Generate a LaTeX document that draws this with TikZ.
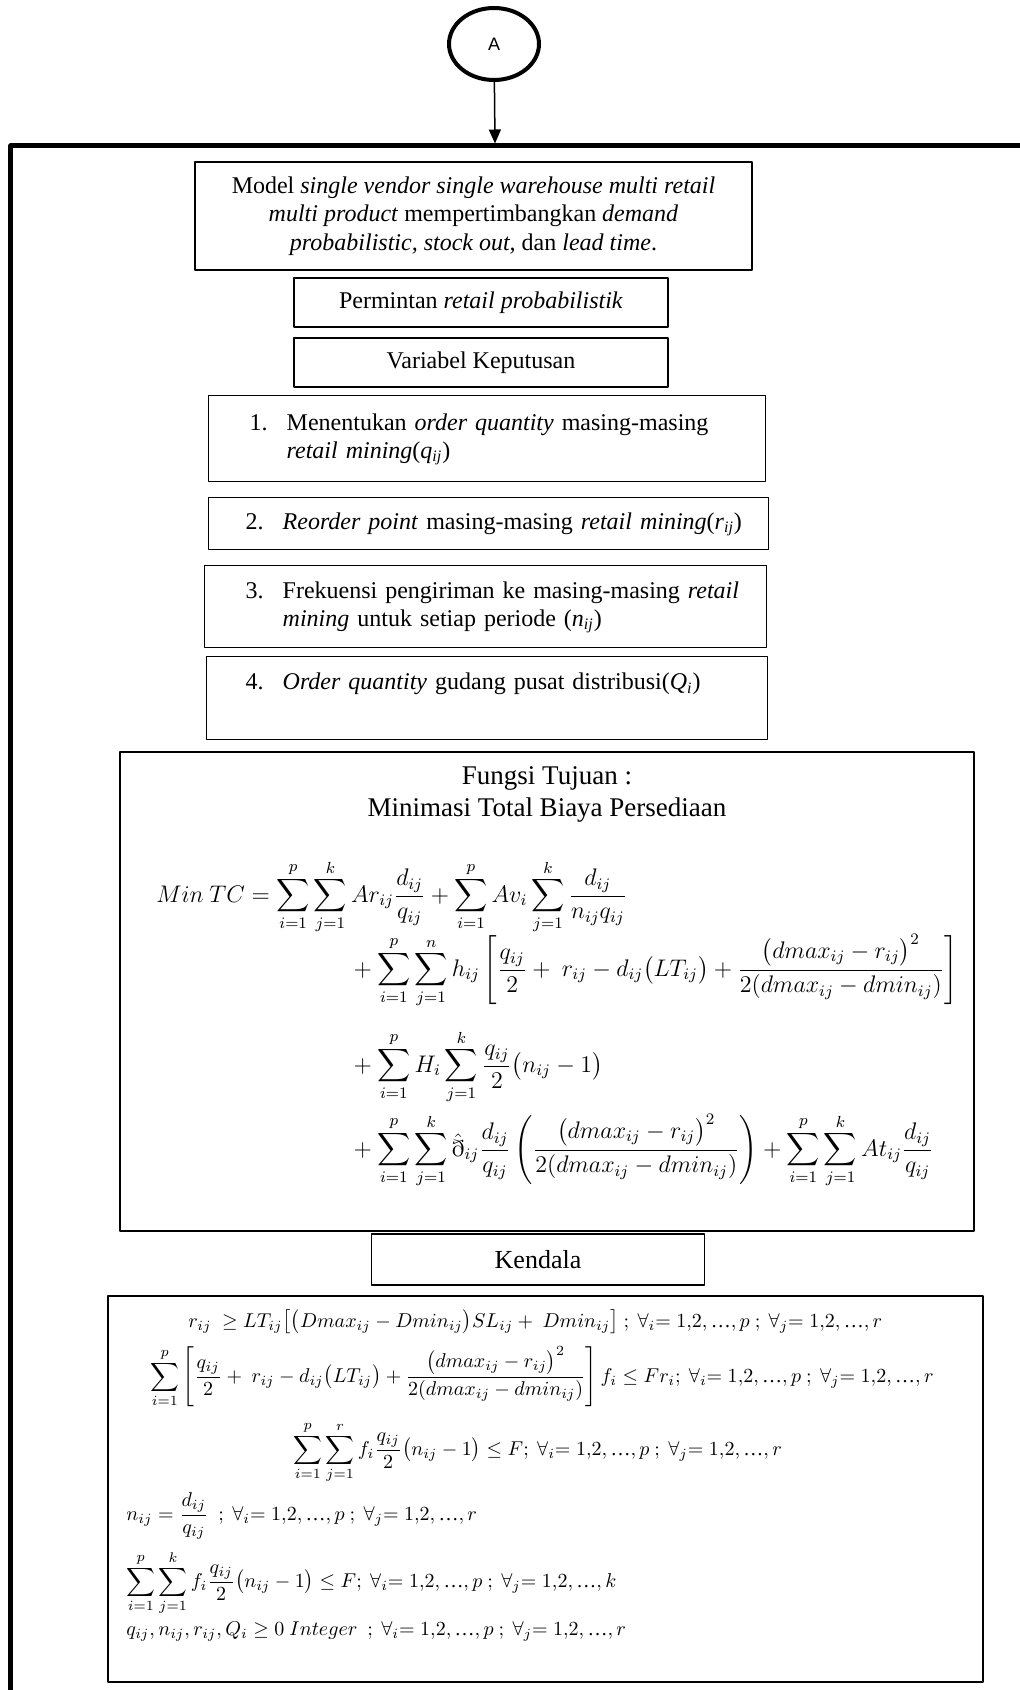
\documentclass[tikz,border=0pt]{standalone}
\usepackage{fontspec}
\setmainfont{Liberation Serif}
\newfontfamily\sanslabel{Liberation Sans}
\usepackage{amsmath,amssymb}
\usetikzlibrary{shapes.geometric,arrows.meta}

\newcommand{\tsub}[2]{\textit{#1}\textsubscript{\textit{#2}}}
\newcommand{\numline}[2]{\begin{tabular}{@{}p{18.5pt}@{}l@{}}#1 & #2\end{tabular}}
\newcommand{\elip}{\text{…}}
\newcommand{\rangeij}[1]{\forall_{i}{=}\;1{,}2,\elip,p\ ;\ \forall_{j}{=}\;1{,}2,\elip,#1}

\begin{document}
\begin{tikzpicture}[x=0.5pt, y=-0.5pt, line join=round,
  kotak/.style={draw, line width=0.7pt, rectangle, inner sep=0pt, font=\fontsize{12}{14}\selectfont},
  daftar/.style={kotak, anchor=north west, align=left},
  rumus/.style={anchor=base west, inner sep=0pt, font=\fontsize{11.5}{14}\selectfont},
  syarat/.style={rumus, font=\fontsize{10}{12}\selectfont}]
\useasboundingbox (0,0) rectangle (1019,1690);

% 1. Konektor A dan bingkai utama
\node[ellipse, draw, line width=2pt, minimum width=45pt, minimum height=36pt, inner sep=0pt,
  font=\sanslabel\fontsize{9}{11}\selectfont] (A) at (494,44) {A};
\coordinate (bingkai) at (495,143.5);
\draw[-{Triangle[length=7pt,width=6pt]}, line width=0.75pt] (A) -- (bingkai);
\draw[line width=2.5pt] (10.8,1720) -- (10.8,145.8) -- (1040,145.8);

% 2. Model dan variabel keputusan
\node[kotak, minimum width=278.5pt, minimum height=54pt, align=center,
  font=\fontsize{12}{14.25}\selectfont] (model) at (473.5,216)
  {Model \textit{single vendor single warehouse multi retail}\\
   \textit{multi product} mempertimbangkan \textit{demand}\\
   \textit{probabilistic, stock out,} dan \textit{lead time}.};
\node[kotak, minimum width=187pt, minimum height=24.5pt] (permintaan) at (481,302.5)
  {Permintan \textit{retail probabilistik}};
\node[kotak, minimum width=187pt, minimum height=24.5pt] (keputusan) at (481,362.5)
  {Variabel Keputusan};

\node[daftar, inner xsep=20.5pt, text width=237.5pt, minimum height=43pt] (var1) at (208,395)
  {\numline{1.}{Menentukan \textit{order quantity} masing-masing\\ & \textit{retail mining}(\tsub{q}{ij})}};
\node[daftar, inner xsep=18.5pt, text width=243pt, minimum height=26pt] (var2) at (208,497)
  {\numline{2.}{\textit{Reorder point} masing-masing \textit{retail mining}(\tsub{r}{ij})}};
\node[daftar, inner xsep=20.5pt, text width=240pt, minimum height=41pt] (var3) at (204,565)
  {\numline{3.}{Frekuensi pengiriman ke masing-masing \textit{retail}\\ & \textit{mining} untuk setiap periode (\tsub{n}{ij})}};
\node[daftar, inner xsep=19.5pt, text width=241.5pt, minimum height=41.5pt] (var4) at (206,656)
  {\numline{4.}{\textit{Order quantity} gudang pusat distribusi(\tsub{Q}{i})\\ & }};

% 3. Fungsi tujuan
\node[kotak, minimum width=427pt, minimum height=239.5pt] (tujuan) at (547,991.5) {};
\node[align=center, font=\fontsize{13.5}{16}\selectfont] (judul) at (547,794)
  {Fungsi Tujuan :\\Minimasi Total Biaya Persediaan};
\node[rumus] (tc1) at (156,902) {$\displaystyle Min\ TC = \sum_{i=1}^{p}\sum_{j=1}^{k} Ar_{ij}\frac{d_{ij}}{q_{ij}}
  + \sum_{i=1}^{p} Av_i \sum_{j=1}^{k}\frac{d_{ij}}{n_{ij}q_{ij}}$};
\node[rumus] (tc2) at (348,976) {$\displaystyle {}+\sum_{i=1}^{p}\sum_{j=1}^{n} h_{ij}\left[\frac{q_{ij}}{2}+\ r_{ij}-d_{ij}\bigl(LT_{ij}\bigr)
  +\frac{\bigl(dmax_{ij}-r_{ij}\bigr)^2}{2(dmax_{ij}-dmin_{ij})}\right]$};
\node[rumus] (tc3) at (348,1072) {$\displaystyle {}+\sum_{i=1}^{p} H_i \sum_{j=1}^{k}\frac{q_{ij}}{2}\bigl(n_{ij}-1\bigr)$};
\node[rumus] (tc4) at (348,1156) {$\displaystyle {}+\sum_{i=1}^{p}\sum_{j=1}^{k}\hat{\eth}_{ij}\frac{d_{ij}}{q_{ij}}
  \left(\frac{\bigl(dmax_{ij}-r_{ij}\bigr)^2}{2(dmax_{ij}-dmin_{ij})}\right)+\sum_{i=1}^{p}\sum_{j=1}^{k} At_{ij}\frac{d_{ij}}{q_{ij}}$};

% 4. Kendala
\node[kotak, minimum width=166.5pt, minimum height=25.5pt, font=\fontsize{13}{15}\selectfont] (kendala) at (538,1259.5) {Kendala};
\node[kotak, minimum width=437.5pt, minimum height=193pt] (batasan) at (545.5,1489) {};
\node[syarat] (k1) at (188,1327) {$\displaystyle r_{ij}\ \ge LT_{ij}\bigl[\bigl(Dmax_{ij}-Dmin_{ij}\bigr)SL_{ij}+\ Dmin_{ij}\bigr]\ ;\ \rangeij{r}$};
\node[syarat] (k2) at (150,1382) {$\displaystyle \sum_{i=1}^{p}\left[\frac{q_{ij}}{2}+\ r_{ij}-d_{ij}\bigl(LT_{ij}\bigr)
  +\frac{\bigl(dmax_{ij}-r_{ij}\bigr)^2}{2(dmax_{ij}-dmin_{ij})}\right]f_i\le Fr_i;\ \rangeij{r}$};
\node[syarat] (k3) at (293,1455) {$\displaystyle \sum_{i=1}^{p}\sum_{j=1}^{r} f_i\frac{q_{ij}}{2}\bigl(n_{ij}-1\bigr)\le F;\ \rangeij{r}$};
\node[syarat] (k4) at (126,1520) {$\displaystyle n_{ij}=\frac{d_{ij}}{q_{ij}}\ \ ;\ \rangeij{r}$};
\node[syarat] (k5) at (126,1587) {$\displaystyle \sum_{i=1}^{p}\sum_{j=1}^{k} f_i\frac{q_{ij}}{2}\bigl(n_{ij}-1\bigr)\le F;\ \rangeij{k}$};
\node[syarat] (k6) at (126,1635) {$q_{ij},n_{ij},r_{ij},Q_i\ge 0\ Integer\ \ ;\ \rangeij{r}$};
\end{tikzpicture}
\end{document}
